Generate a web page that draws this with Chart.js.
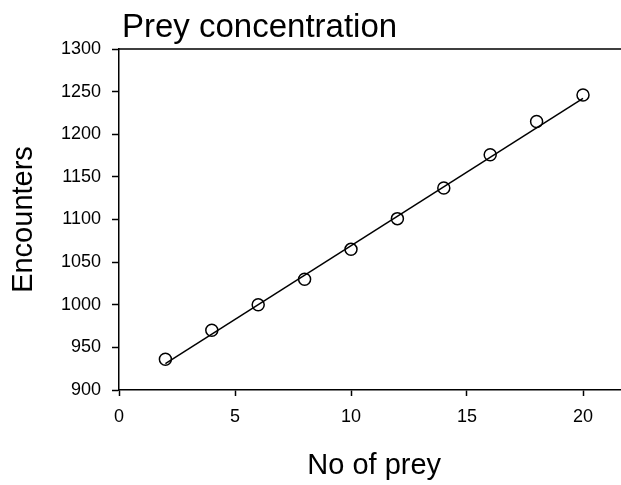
<!DOCTYPE html>
<html lang="en">
<head>
    <meta charset="UTF-8">
    <title>Prey concentration</title>
    <style>
        body {
            margin: 0;
            overflow: hidden;
            background: #fff;
        }
        #wrap {
            width: 640px;
            height: 485px;
        }
    </style>
</head>
<body>
    <div id="wrap">
        <canvas id="chart" width="640" height="485"></canvas>
    </div>

    <script src="https://cdn.jsdelivr.net/npm/chart.js"></script>
    <script>
        // data
        const preyCount = [2, 4, 6, 8, 10, 12, 14, 16, 18, 20];
        const encounters = [936, 970, 1000, 1030, 1065, 1101, 1137, 1176, 1215, 1246];
        // regression line end points
        const fitX = [2, 20];
        const fitY = [931, 1242];
        const xTicks = [0, 5, 10, 15, 20];
        const yTicks = [900, 950, 1000, 1050, 1100, 1150, 1200, 1250, 1300];

        const FONT = "'Liberation Sans', Arial, sans-serif";

        // top and right border of the plot box + the title over it
        const framePlugin = {
            id: 'frame',
            afterDraw(chart) {
                const ctx = chart.ctx;
                const a = chart.chartArea;
                ctx.save();
                ctx.strokeStyle = '#000';
                ctx.lineWidth = 1.5;
                ctx.beginPath();
                ctx.moveTo(a.left, a.top);
                ctx.lineTo(a.right, a.top);
                ctx.lineTo(a.right, a.bottom);
                ctx.stroke();

                ctx.fillStyle = '#000';
                ctx.font = '33px ' + FONT;
                ctx.textAlign = 'left';
                ctx.textBaseline = 'alphabetic';
                ctx.fillText('Prey concentration', a.left + 3, a.top - 12.5);
                ctx.restore();
            }
        };

        const ctx = document.getElementById('chart').getContext('2d');
        const chart = new Chart(ctx, {
            type: 'scatter',
            data: {
                datasets: [{
                    label: 'Encounters',
                    data: preyCount.map((x, i) => ({ x: x, y: encounters[i] })),
                    pointStyle: 'circle',
                    pointRadius: 6,
                    pointBorderWidth: 1.5,
                    pointBorderColor: '#000',
                    pointBackgroundColor: 'rgba(0,0,0,0)',
                    showLine: false,
                    order: 1
                }, {
                    label: 'Fit',
                    data: fitX.map((x, i) => ({ x: x, y: fitY[i] })),
                    showLine: true,
                    borderColor: '#000',
                    borderWidth: 1.5,
                    pointRadius: 0,
                    order: 2
                }]
            },
            options: {
                responsive: false,
                animation: false,
                layout: {
                    padding: { top: 49, right: 10.6, left: 0, bottom: 0 }
                },
                plugins: {
                    legend: { display: false },
                    tooltip: { enabled: false },
                    title: { display: false }
                },
                scales: {
                    x: {
                        type: 'linear',
                        min: 0,
                        max: 22,
                        afterFit(scale) { scale.height = 95; },
                        afterBuildTicks(scale) {
                            scale.ticks = xTicks.map(v => ({ value: v }));
                        },
                        grid: {
                            drawOnChartArea: false,
                            drawTicks: true,
                            tickLength: 6,
                            tickWidth: 1.5,
                            tickColor: '#000'
                        },
                        border: { display: true, color: '#000', width: 1.5 },
                        ticks: {
                            color: '#000',
                            padding: 10,
                            font: { family: FONT, size: 18 },
                            maxRotation: 0,
                            callback: v => String(v)
                        },
                        title: {
                            display: true,
                            text: 'No of prey',
                            color: '#000',
                            font: { family: FONT, size: 29, lineHeight: 1 },
                            padding: { top: 0, bottom: 4.5 }
                        }
                    },
                    y: {
                        type: 'linear',
                        min: 900,
                        max: 1300,
                        afterFit(scale) { scale.width = 119; },
                        afterBuildTicks(scale) {
                            scale.ticks = yTicks.map(v => ({ value: v }));
                        },
                        grid: {
                            drawOnChartArea: false,
                            drawTicks: true,
                            tickLength: 7,
                            tickWidth: 1.5,
                            tickColor: '#000'
                        },
                        border: { display: true, color: '#000', width: 1.5 },
                        ticks: {
                            color: '#000',
                            padding: 11,
                            font: { family: FONT, size: 18 },
                            callback: v => String(v)
                        },
                        title: {
                            display: true,
                            text: 'Encounters',
                            color: '#000',
                            font: { family: FONT, size: 29, lineHeight: 1 },
                            padding: { top: 9, bottom: 0 }
                        }
                    }
                }
            },
            plugins: [framePlugin]
        });
    </script>
</body>
</html>
